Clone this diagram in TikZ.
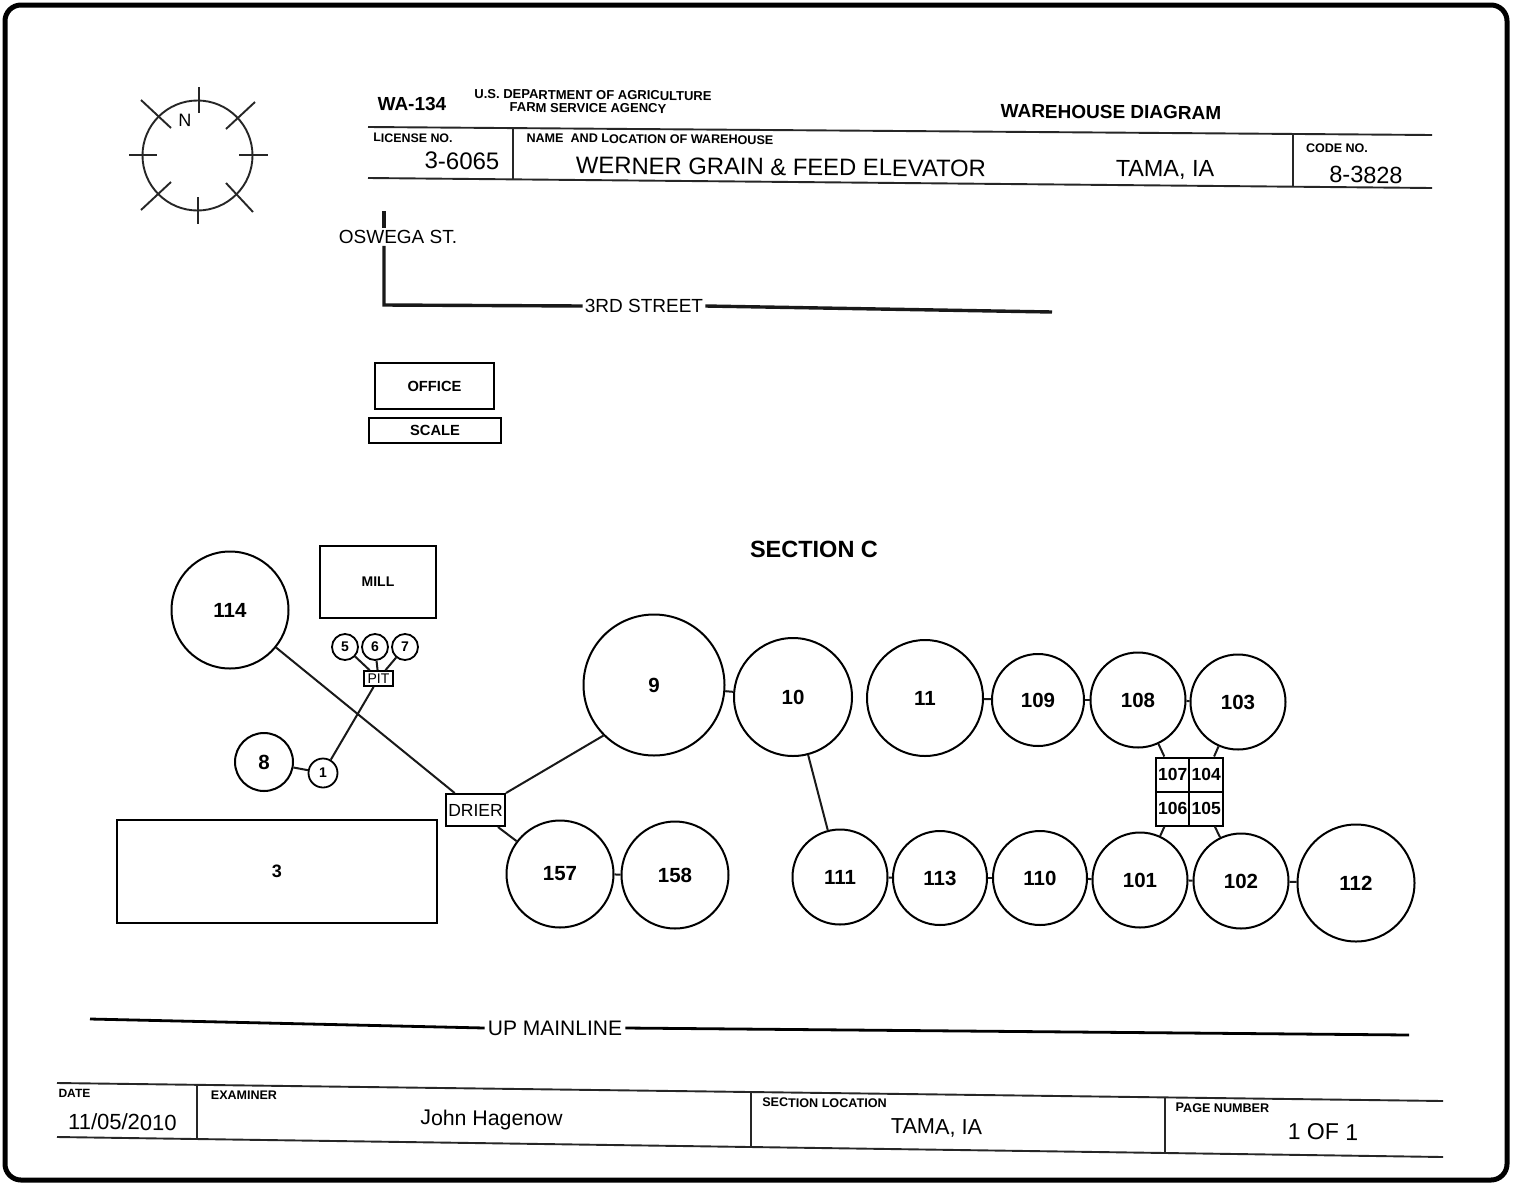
\documentclass[tikz,border=0pt]{standalone}
\usepackage{fontspec}
\setmainfont{Liberation Sans}
\tikzset{
  formtext/.style={inner sep=1pt,rotate=-0.45,font=\fontsize{#1}{#1}\selectfont},
  formbold/.style={inner sep=1pt,rotate=-0.45,font=\fontsize{#1}{#1}\selectfont\bfseries},
  rule/.style={line width=1.9pt,black!85},
  road/.style={line width=3.4pt,black!90},
  link/.style={line width=2pt,black!90},
  bin/.style={circle,draw,line width=2pt,inner sep=0pt,font=\fontsize{20.5}{20.5}\selectfont\bfseries},
  smallbin/.style={circle,draw,line width=1.8pt,inner sep=0pt,font=\fontsize{14}{14}\selectfont\bfseries},
  block/.style={draw,line width=2pt,inner sep=0pt,font=\fontsize{14.7}{14.7}\selectfont\bfseries},
  tank/.style={draw,line width=2pt,inner sep=0pt,minimum width=33.5pt,minimum height=34pt,font=\fontsize{17.5}{17.5}\selectfont\bfseries},
}
\begin{document}
\begin{tikzpicture}[x=1pt,y=-1pt]
  \useasboundingbox (0,0) rectangle (1513,1184);
  \fill[white] (0,0) rectangle (1513,1184);
  \draw[line width=5pt,rounded corners=16pt] (5,5) rectangle (1507,1180);

  % compass
  \draw[line width=1.9pt,black!85] (197.5,155.5) circle (55);
  \foreach \xa/\ya/\xb/\yb in {199/87/199/113,198/197/198/224,129/155/157/155,239/155/268/155,
    141/100/171/128,255/102/226/129,141/210/171/182,253/212/226/183}{
    \draw[rule] (\xa,\ya) -- (\xb,\yb);}
  \node[formtext=18] (north) at (185,120) {N};

  % form header
  \node[formbold=19] (formno) at (412,104) {WA-134};
  \node[formbold=13] (dept) at (593,95) {U.S. DEPARTMENT OF AGRICULTURE};
  \node[formbold=13] (agency) at (588,108) {FARM SERVICE AGENCY};
  \node[formbold=19] (title) at (1111,112) {WAREHOUSE DIAGRAM};
  \draw[rule] (368,127) -- (1432,135);
  \draw[rule] (368,178) -- (1432,188);
  \draw[rule] (513,128) -- (513,179);
  \draw[rule] (1293,134) -- (1293,187);
  \node[formbold=12.4] (license) at (413,138) {LICENSE NO.};
  \node[formtext=24] (licenseno) at (462,161) {3-6065};
  \node[formbold=12.6] (namehead) at (650,139) {NAME\ \ AND LOCATION OF WAREHOUSE};
  \node[formtext=23.8] (wname) at (781,167) {WERNER GRAIN \& FEED ELEVATOR};
  \node[formtext=23.4] (wtown) at (1165,170) {TAMA, IA};
  \node[formbold=12.5] (codehead) at (1337,148) {CODE NO.};
  \node[formtext=23.5] (codeno) at (1366,175) {8-3828};

  % streets
  \node[inner sep=2pt,font=\fontsize{19}{19}\selectfont] (oswega) at (398,237) {OSWEGA ST.};
  \node[inner sep=2pt,font=\fontsize{19}{19}\selectfont] (third) at (644,306) {3RD STREET};
  \coordinate (oswegatop) at (384,211);
  \coordinate (corner) at (384,305);
  \coordinate (thirdend) at (1052,312);
  \draw[road] (oswegatop) -- (oswegatop |- oswega.north);
  \draw[road] (oswegatop |- oswega.south) -- (corner) -- (third.west);
  \draw[road] (third.east) -- (thirdend);

  \node[block,minimum width=119pt,minimum height=46pt] (office) at (434.5,386) {OFFICE};
  \node[block,minimum width=132pt,minimum height=25pt] (scale) at (435,430.5) {SCALE};
  \node[inner sep=1pt,font=\fontsize{23.5}{23.5}\selectfont\bfseries] (section) at (814,549) {SECTION C};

  % bins
  \foreach \name/\x/\y/\d in {114/230/610/117,9/654/685/141,10/793/697/118,11/925/698/116,
    109/1038/700/92,108/1138/700/95,103/1238/702/95,8/264/762/58,157/560/874/107,158/675/875/107,
    111/840/877/95,113/940/878/94,110/1040/878/94,101/1140/880/95,102/1241/881/95,112/1356/883/117}{
    \node[bin,minimum size=\d] (b\name) at (\x,\y) {\name};}
  \foreach \name/\x/\y/\d in {1/323/773/29,5/345/647/26,6/375/647/26,7/405/647/26}{
    \node[smallbin,minimum size=\d] (b\name) at (\x,\y) {\name};}

  \node[block,minimum width=116pt,minimum height=72pt,font=\fontsize{14}{14}\selectfont\bfseries] (mill) at (378,582) {MILL};
  \node[block,minimum width=320pt,minimum height=103pt,font=\fontsize{18}{18}\selectfont\bfseries] (b3) at (277,871.5) {3};
  \node[block,line width=1.6pt,minimum width=29pt,minimum height=15pt,font=\fontsize{14}{14}\selectfont] (pit) at (378.5,678.5) {PIT};
  \node[block,minimum width=59pt,minimum height=32pt,font=\fontsize{17.5}{17.5}\selectfont] (drier) at (475.5,810) {DRIER};

  \node[tank] (b107) at (1172.7,774.5) {107};
  \node[tank] (b104) at (1206.2,774.5) {104};
  \node[tank] (b106) at (1172.7,808.5) {106};
  \node[tank] (b105) at (1206.2,808.5) {105};

  % connectors
  \foreach \a/\b in {9/10,157/158,11/109,109/108,108/103,111/113,113/110,110/101,101/102,102/112,
    10/111,8/1,108/107,103/104,101/106,102/105}{
    \draw[link] (b\a) -- (b\b);}
  \foreach \a in {5,6,7,1}{\draw[link] (b\a) -- (pit);}
  \draw[link] (b114) -- (drier);
  \draw[link] (drier.north east) -- (b9.225);
  \draw[link] (drier) -- (b157);

  % rail line
  \node[inner sep=3pt,font=\fontsize{21}{21}\selectfont] (mainline) at (555,1028) {UP MAINLINE};
  \coordinate (railwest) at (90,1019);
  \coordinate (raileast) at (1409,1035);
  \draw[line width=2.8pt] (railwest) -- (mainline.west);
  \draw[line width=2.8pt] (mainline.east) -- (raileast);

  % form footer
  \draw[rule] (57,1083) -- (1443,1101);
  \draw[rule] (57,1137) -- (1443,1157);
  \draw[rule] (197,1084) -- (197,1138);
  \draw[rule] (751,1092) -- (751,1147);
  \draw[rule] (1165,1097) -- (1165,1153);
  \node[formbold=12] (datehead) at (74.5,1093) {DATE};
  \node[formtext=22] (dateval) at (122.5,1122) {11/05/2010};
  \node[formbold=12.5] (exhead) at (244,1095) {EXAMINER};
  \node[formtext=21.3] (exval) at (491.5,1120) {John Hagenow};
  \node[formbold=12.6] (sechead) at (824.5,1103) {SECTION LOCATION};
  \node[formtext=21.7] (secval) at (936.5,1128) {TAMA, IA};
  \node[formbold=12.6] (pagehead) at (1222.5,1108) {PAGE NUMBER};
  \node[formtext=23] (pageval) at (1323,1132) {1 OF 1};
\end{tikzpicture}
\end{document}
